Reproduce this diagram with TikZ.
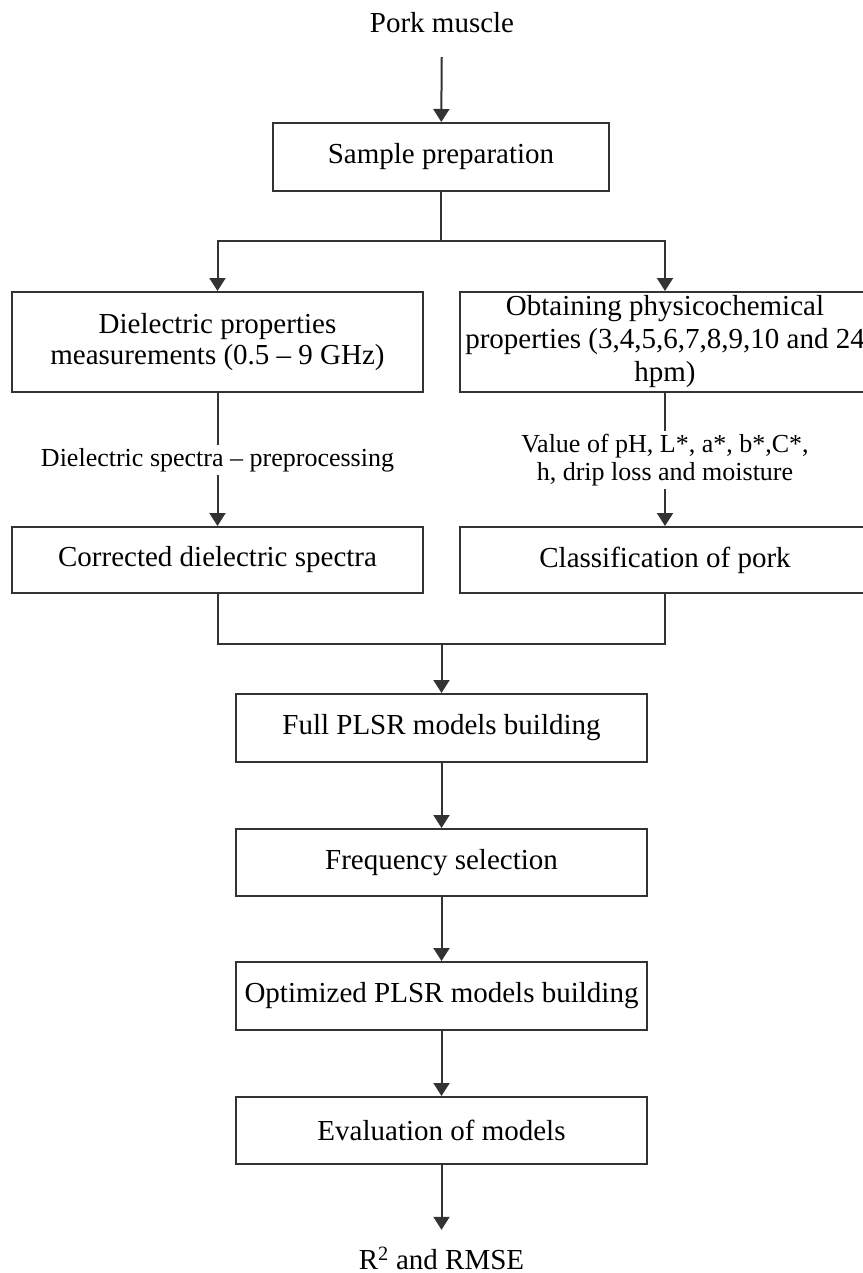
\documentclass[tikz,border=0pt]{standalone}
\usepackage{fontspec}
\setmainfont{Liberation Serif}
\usetikzlibrary{arrows.meta}
\begin{document}
\begin{tikzpicture}[x=1pt,y=-1pt,
  box/.style={draw=black!80, line width=2pt, inner sep=0pt, align=center,
    font=\fontsize{29}{31}\selectfont},
  plain/.style={inner sep=0pt, align=center, font=\fontsize{29}{31}\selectfont},
  lab/.style={inner sep=0pt, align=center, font=\fontsize{26}{28}\selectfont},
  conn/.style={draw=black!80, line width=2pt},
  arr/.style={conn, -{Triangle[width=16pt,length=13pt]}}]
\useasboundingbox (0,0) rectangle (862,1273);

\node[plain, minimum height=68pt] (pork) at (442,23) {Pork muscle};
\node[box, minimum width=336pt, minimum height=68pt] (sample) at (441,157) {Sample preparation};

\node[box, minimum width=411pt, minimum height=100pt] (d1) at (217.5,342)
  {Dielectric properties\\measurements (0.5 -- 9 GHz)};
\node[box, minimum width=410pt, minimum height=100pt,
  font=\fontsize{29}{33}\selectfont] (d2) at (665,342)
  {Obtaining physicochemical\\properties (3,4,5,6,7,8,9,10 and 24\\hpm)};

\node[lab, minimum height=30pt] (l1) at (217.5,460) {Dielectric spectra -- preprocessing};
\node[lab, minimum height=58pt] (l2) at (665,460) {Value of pH, L*, a*, b*,C*,\\h, drip loss and moisture};

\node[box, minimum width=411pt, minimum height=66pt] (c1) at (217.5,560) {Corrected dielectric spectra};
\node[box, minimum width=410pt, minimum height=66pt] (c2) at (665,560) {Classification of pork};

\node[box, minimum width=411pt, minimum height=68pt] (full) at (441.5,728) {Full PLSR models building};
\node[box, minimum width=411pt, minimum height=67pt] (freq) at (441.5,862.5) {Frequency selection};
\node[box, minimum width=411pt, minimum height=68pt] (opt) at (441.5,996) {Optimized PLSR models building};
\node[box, minimum width=411pt, minimum height=67pt] (eval) at (441.5,1130.5) {Evaluation of models};
\node[plain, minimum height=56pt] (res) at (441.5,1258) {R\textsuperscript{2} and RMSE};

\coordinate (br) at (441,241);
\coordinate (jn) at (441.5,644);

\draw[arr] (pork) -- (sample);
\draw[conn] (sample.south) -- (br);
\draw[arr] (br) -| (d1.north);
\draw[arr] (br) -| (d2.north);
\draw[conn] (d1.south) -- (l1.north);
\draw[arr] (l1.south) -- (c1.north);
\draw[conn] (d2.south) -- (l2.north);
\draw[arr] (l2.south) -- (c2.north);
\draw[conn] (c1.south) |- (jn);
\draw[conn] (c2.south) |- (jn);
\draw[arr] (jn) -- (full.north);
\draw[arr] (full) -- (freq);
\draw[arr] (freq) -- (opt);
\draw[arr] (opt) -- (eval);
\draw[arr] (eval) -- (res);
\end{tikzpicture}
\end{document}
